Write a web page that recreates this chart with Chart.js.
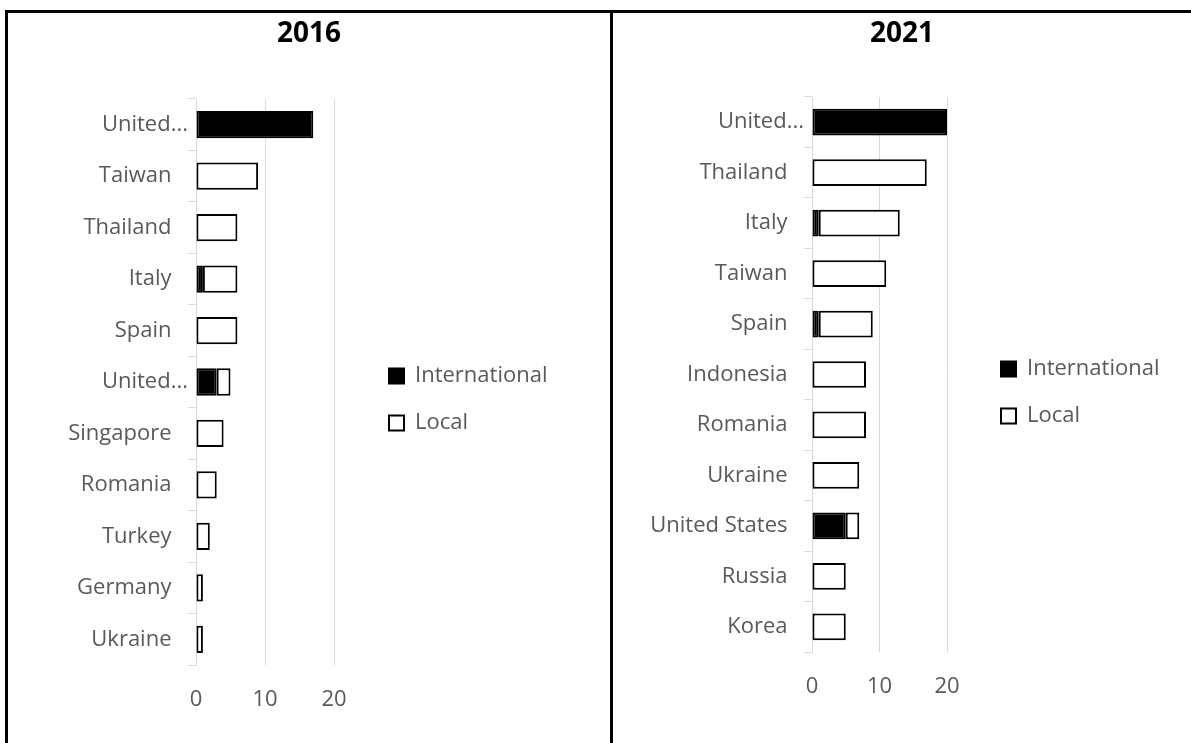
<!DOCTYPE html>
<html lang="en">
<head>
<meta charset="UTF-8">
<title>International and Local, 2016 and 2021</title>
<script src="https://cdn.jsdelivr.net/npm/chart.js@4.4.1/dist/chart.umd.min.js"></script>
<style>
    body { margin: 0; background: #fff; width: 1191px; height: 743px; position: relative; overflow: hidden; }
    .rule { position: absolute; background: #000; }
    canvas { position: absolute; }
</style>
</head>
<body>
<div class="rule" style="left:5px;top:10px;width:1186px;height:3px"></div>
<div class="rule" style="left:5px;top:10px;width:3px;height:733px"></div>
<div class="rule" style="left:610px;top:10px;width:3px;height:733px"></div>

<canvas id="chart2016" width="602" height="730" style="left:8px;top:13px"></canvas>
<canvas id="chart2021" width="578" height="730" style="left:613px;top:13px"></canvas>

<script>
    // values
    const seriesNames = ['International', 'Local'];

    const categories2016 = ['United...', 'Taiwan', 'Thailand', 'Italy', 'Spain', 'United...',
        'Singapore', 'Romania', 'Turkey', 'Germany', 'Ukraine'];
    const international2016 = [17, null, null, 1, null, 3, null, null, null, null, null];
    const local2016 = [null, 9, 6, 5, 6, 2, 4, 3, 2, 1, 1];

    const categories2021 = ['United...', 'Thailand', 'Italy', 'Taiwan', 'Spain', 'Indonesia',
        'Romania', 'Ukraine', 'United States', 'Russia', 'Korea'];
    const international2021 = [20, null, 1, null, 1, null, null, null, 5, null, null];
    const local2021 = [null, 17, 12, 11, 8, 8, 8, 7, 2, 5, 5];

    const xMin = 0;
    const xMax = 20;
    const xStep = 10;

    Chart.defaults.font.family = "'Open Sans', sans-serif";
    Chart.defaults.font.size = 22;
    Chart.defaults.color = '#595959';

    // moves the legend to the right of the plot and keeps the title centred on the canvas
    const placeLegend = {
        id: 'placeLegend',
        afterLayout(chart, args, opts) {
            const lg = chart.legend;
            const area = chart.chartArea;
            lg.left = area.right + opts.dx;
            lg.width = 260;
            lg.right = lg.left + lg.width;
            lg.top = area.top + opts.dy;
            lg.bottom = area.bottom + opts.dy;
            lg.height = lg.bottom - lg.top;
            const t = chart.titleBlock;
            t.left = 0;
            t.right = chart.width;
            t.width = chart.width;
        }
    };

    function makeChart(id, title, categories, international, local, frame) {
        return new Chart(document.getElementById(id), {
            type: 'bar',
            data: {
                labels: categories,
                datasets: [
                    {
                        label: seriesNames[0],
                        data: international,
                        backgroundColor: '#000000',
                        borderColor: '#000000',
                        borderWidth: 2,
                        borderSkipped: false,
                    },
                    {
                        label: seriesNames[1],
                        data: local,
                        backgroundColor: '#ffffff',
                        borderColor: '#000000',
                        borderWidth: 2,
                        borderSkipped: false,
                    },
                ],
            },
            plugins: [placeLegend],
            options: {
                indexAxis: 'y',
                responsive: false,
                animation: false,
                devicePixelRatio: 1,
                categoryPercentage: 1,
                barPercentage: 0.53,
                layout: {
                    padding: {left: 0, top: 0, bottom: 0, right: frame.padRight},
                },
                scales: {
                    x: {
                        stacked: true,
                        min: xMin,
                        max: xMax,
                        ticks: {stepSize: xStep, padding: frame.xPad, color: '#595959'},
                        grid: {color: '#d9d9d9', drawTicks: false, lineWidth: 1},
                        border: {display: false},
                        afterFit: s => { s.height = frame.xHeight; },
                    },
                    y: {
                        stacked: true,
                        grid: {offset: true, drawOnChartArea: false, tickLength: 8, color: '#d9d9d9'},
                        border: {display: true, color: '#d9d9d9', width: 1},
                        ticks: {
                            padding: 0,
                            color: '#595959',
                            autoSkip: false,
                            callback: function (v) {
                                const s = this.getLabelForValue(v);
                                return s.endsWith('...') ? s : s + '\u2002\u2005';
                            },
                        },
                        afterFit: s => { s.width = frame.yWidth; },
                    },
                },
                plugins: {
                    title: {
                        display: true,
                        text: title,
                        color: '#000000',
                        font: {size: 28, weight: 'bold'},
                        padding: {top: 4, bottom: frame.titleBottom},
                    },
                    legend: {
                        display: true,
                        position: 'chartArea',
                        labels: {
                            boxWidth: 15,
                            boxHeight: 15,
                            padding: 25,
                            color: '#595959',
                            font: {size: 22},
                        },
                    },
                    tooltip: {enabled: false},
                    placeLegend: {dx: frame.dx, dy: frame.dy},
                },
            },
        });
    }

    makeChart('chart2016', '2016', categories2016, international2016, local2016,
        {padRight: 276, yWidth: 188, xHeight: 78, xPad: 22, titleBottom: 48.4, dx: 30, dy: 17.5});
    makeChart('chart2021', '2021', categories2021, international2021, local2021,
        {padRight: 244, yWidth: 199, xHeight: 91, xPad: 22, titleBottom: 46.4, dx: 29, dy: 18});
</script>
</body>
</html>
